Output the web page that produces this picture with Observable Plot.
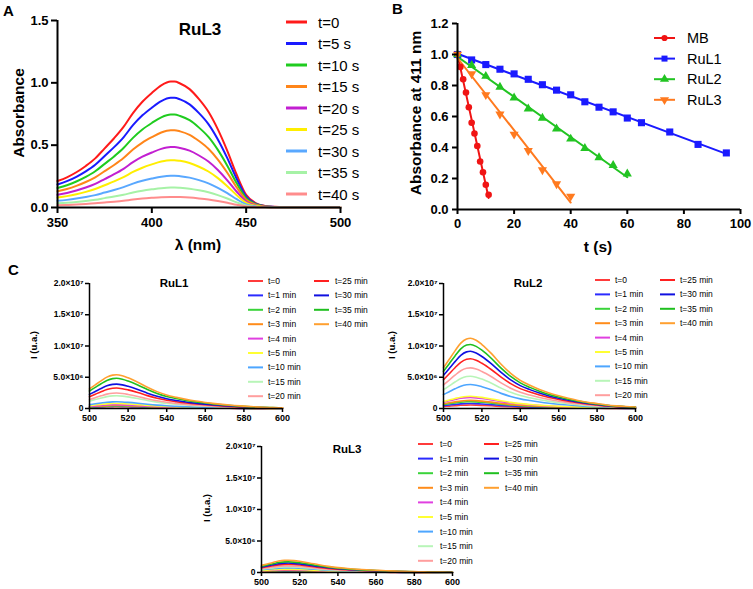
<!DOCTYPE html>
<html><head><meta charset="utf-8">
<script src="https://cdn.jsdelivr.net/npm/d3@7"></script>
<script src="https://cdn.jsdelivr.net/npm/@observablehq/plot@0.6"></script>
<style>
body{margin:0;background:#fff;}
#root{position:relative;width:753px;height:589px;overflow:hidden;background:#fff;font-family:"Liberation Sans",Arial,sans-serif;}
#root svg{position:absolute;}
</style></head><body><div id="root"></div>
<script>
// ---------- Panel A: absorbance spectra of RuL3 ----------
const aWavelength = [350,355,360,365,370,375,380,385,390,395,400,405,410,412,415,420,425,430,435,440,445,450,455,460,465,470,480,490,500];
const aShape = [0.21,0.24,0.28,0.33,0.39,0.47,0.55,0.64,0.75,0.84,0.91,0.97,1.0,1.0,0.985,0.94,0.86,0.76,0.62,0.45,0.26,0.10,0.035,0.012,0.005,0.002,0.001,0.0,0.0];
const aLabels = ["t=0","t=5 s","t=10 s","t=15 s","t=20 s","t=25 s","t=30 s","t=35 s","t=40 s"];
const aPeaks = [1.01,0.88,0.745,0.62,0.485,0.38,0.255,0.16,0.085];
const aColors = ["#ff1a1a","#1a1aff","#1fcc1f","#ff8519","#c21fd1","#ffee00","#59a8ff","#a6f2a6","#ff8c8c"];
const aXTicks = [350,400,450,500];
const aYTicks = [0,0.5,1.0,1.5];

// ---------- Panel B: absorbance at 411 nm vs time ----------
const bSeries = ["MB","RuL1","RuL2","RuL3"];
const bColors = ["#f01414","#1a1aff","#22c422","#ff7a1f"];
const bMB_t = [0,1,2,3,4,5,6,7,8,9,10,11];
const bMB_y = [1.0,0.92,0.84,0.755,0.66,0.56,0.49,0.41,0.31,0.24,0.16,0.095];
const bRuL1_t = [0,5,10,15,20,25,30,35,40,45,50,55,60,65,75,85,95];
const bRuL1_y = [1.0,0.965,0.935,0.905,0.875,0.84,0.805,0.77,0.74,0.695,0.66,0.63,0.59,0.56,0.5,0.42,0.365];
const bRuL2_t = [0,5,10,15,20,25,30,35,40,45,50,55,60];
const bRuL2_y = [1.0,0.93,0.86,0.79,0.72,0.65,0.59,0.52,0.455,0.395,0.335,0.285,0.23];
const bRuL3_t = [0,5,10,15,20,25,30,35,40];
const bRuL3_y = [1.0,0.875,0.74,0.615,0.485,0.38,0.255,0.165,0.085];
const bXTicks = [0,20,40,60,80,100];
const bYTicks = [0,0.2,0.4,0.6,0.8,1.0,1.2];

// ---------- Panel C: emission spectra ----------
const cWavelength = [500,503,506,509,512,514,517,520,525,530,535,540,545,550,555,560,565,570,575,580,585,590,595,600];
const cShape = [0.58,0.70,0.82,0.93,0.99,1.0,0.97,0.91,0.78,0.63,0.50,0.40,0.33,0.27,0.22,0.18,0.145,0.115,0.09,0.07,0.05,0.037,0.028,0.022];
const cLabels = ["t=0","t=1 min","t=2 min","t=3 min","t=4 min","t=5 min","t=10 min","t=15 min","t=20 min","t=25 min","t=30 min","t=35 min","t=40 min"];
const cColors = ["#ff3b3b","#2b2bff","#3ad43a","#ff8c1a","#e040e0","#ffff33","#4da6ff","#b8f5b8","#ff9e9e","#ff2020","#1010e0","#1fbf1f","#ffa030"];
const cPeaksRuL1 = [0.3e6,0.35e6,0.4e6,0.5e6,0.6e6,0.8e6,1.07e6,2.04e6,2.47e6,3.27e6,3.9e6,4.83e6,5.4e6];
const cPeaksRuL2 = [0.55e6,0.8e6,1.1e6,1.3e6,1.75e6,1.95e6,3.84e6,5.17e6,6.5e6,7.95e6,9.15e6,10.25e6,11.25e6];
const cPeaksRuL3 = [0.2e6,0.25e6,0.3e6,0.35e6,0.45e6,0.53e6,0.74e6,0.9e6,1.05e6,1.3e6,1.5e6,1.7e6,1.95e6];
const cXTicks = [500,520,540,560,580,600];
const cYTicks = [0,5e6,1e7,1.5e7,2e7];
const cYTickLabels = ["0","5.0×10\u2076","1.0×10\u2077","1.5×10\u2077","2.0×10\u2077"];

const root = document.getElementById("root");
const FONT = "'Liberation Sans', Arial, Helvetica, sans-serif";
function place(el, left, top){ el.style.left = left+"px"; el.style.top = top+"px"; root.append(el); }

// ----- Panel A plot -----
const aData = [];
aLabels.forEach((s,i)=>aWavelength.forEach((w,j)=>aData.push({x:w, y:aShape[j]*aPeaks[i], s})));
const plotA = Plot.plot({
  width:380, height:260, marginTop:20, marginRight:40, marginBottom:53, marginLeft:57,
  x:{domain:[350,500]}, y:{domain:[0,1.5]},
  color:{domain:aLabels, range:aColors},
  style:{fontFamily:FONT, fontSize:"13px", fontWeight:"bold", background:"transparent", overflow:"visible", color:"#000"},
  marks:[
    Plot.line(aData,{x:"x", y:"y", z:"s", stroke:"s", strokeWidth:2, curve:"monotone-x"}),
    Plot.ruleX([350],{stroke:"#000", strokeWidth:2}),
    Plot.ruleY([0],{stroke:"#000", strokeWidth:2}),
    Plot.axisX({ticks:aXTicks, tickSize:6, tickPadding:4, strokeWidth:2, label:null}),
    Plot.axisY({ticks:aYTicks, tickSize:6, tickPadding:3, strokeWidth:2, tickFormat:d3.format(".1f"), label:null})
  ]
});
place(plotA, 0, 0);

// ----- Panel B plot -----
const bData = [];
const bT = [bMB_t,bRuL1_t,bRuL2_t,bRuL3_t], bY = [bMB_y,bRuL1_y,bRuL2_y,bRuL3_y];
bSeries.forEach((s,i)=>bT[i].forEach((t,j)=>bData.push({t, y:bY[i][j], s})));
const bSymbols = ["circle","square","triangle","triangle"];
const bRotate = [0,0,0,180];
const bR = [3.3,4.0,3.4,3.4];
const bMarks = [];
bSeries.forEach((s,i)=>{
  const d = bData.filter(r=>r.s===s);
  bMarks.push(Plot.linearRegressionY(d,{x:"t", y:"y", stroke:bColors[i], strokeWidth:2, ci:0}));
});
bSeries.forEach((s,i)=>{
  const d = bData.filter(r=>r.s===s);
  bMarks.push(Plot.dot(d,{x:"t", y:"y", fill:bColors[i], symbol:bSymbols[i], rotate:bRotate[i], r:bR[i]}));
});
const plotB = Plot.plot({
  width:373, height:260, marginTop:23, marginRight:13, marginBottom:51, marginLeft:77,
  x:{domain:[0,100]}, y:{domain:[0,1.2]},
  style:{fontFamily:FONT, fontSize:"13px", fontWeight:"bold", background:"transparent", overflow:"visible", color:"#000"},
  marks:[
    ...bMarks,
    Plot.ruleX([0],{stroke:"#000", strokeWidth:2}),
    Plot.ruleY([0],{stroke:"#000", strokeWidth:2}),
    Plot.axisX({ticks:bXTicks, tickSize:5, tickPadding:4, strokeWidth:2, label:null}),
    Plot.axisY({ticks:bYTicks, tickSize:5, tickPadding:4, strokeWidth:2, tickFormat:d3.format(".1f"), label:null})
  ]
});
place(plotB, 380, 0);

// ----- Panel C plots -----
function makeC(peaks, opts){
  const data = [];
  cLabels.forEach((s,i)=>cWavelength.forEach((w,j)=>data.push({x:w, y:cShape[j]*peaks[i], s})));
  return Plot.plot({
    width:opts.width, height:opts.height, marginTop:opts.mt, marginRight:opts.mr, marginBottom:opts.mb, marginLeft:opts.ml,
    x:{domain:[500,600]}, y:{domain:[0,2e7]},
    color:{domain:cLabels, range:cColors},
    style:{fontFamily:FONT, fontSize:"9px", fontWeight:"bold", background:"transparent", overflow:"visible", color:"#000"},
    marks:[
      Plot.line(data,{x:"x", y:"y", z:"s", stroke:"s", strokeWidth:1.6, curve:"monotone-x"}),
      Plot.ruleX([500],{stroke:"#000", strokeWidth:1.5}),
      Plot.ruleY([0],{stroke:"#000", strokeWidth:1.5}),
      Plot.axisX({ticks:cXTicks, tickSize:4, tickPadding:2, strokeWidth:1.5, fontSize:9, label:null}),
      Plot.axisY({ticks:cYTicks, tickSize:4, tickPadding:2, strokeWidth:1.5, fontSize:8.5, tickFormat:d=>cYTickLabels[cYTicks.indexOf(d)], label:null})
    ]
  });
}
place(makeC(cPeaksRuL1,{width:380,height:170,mt:23,mr:98,mb:22,ml:89}), 0, 260);
place(makeC(cPeaksRuL2,{width:373,height:170,mt:23,mr:118,mb:22,ml:63}), 380, 260);
place(makeC(cPeaksRuL3,{width:340,height:169,mt:26,mr:88,mb:17,ml:61}), 200, 420);

// ----- Overlay: panel letters, titles, axis labels, legends -----
const ov = d3.create("svg").attr("width",753).attr("height",589)
  .style("left","0px").style("top","0px").style("font-family",FONT);
function txt(s,x,y,size,weight,anchor,rot){
  const t = ov.append("text").attr("x",x).attr("y",y).attr("font-size",size).attr("font-weight",weight||"normal")
    .attr("text-anchor",anchor||"middle").attr("dominant-baseline","central").attr("fill","#000").text(s);
  if(rot) t.attr("transform",`rotate(${rot},${x},${y})`);
  return t;
}
txt("A",3,10,15,"bold","start");
txt("B",392,8,15,"bold","start");
txt("C",8,269,15,"bold","start");
// Panel A texts
txt("RuL3",200,29,17,"bold");
txt("λ (nm)",198,244,15.5,"bold");
txt("Absorbance",18,113,15.5,"bold","middle",-90);
aLabels.forEach((s,i)=>{
  const y = 22 + i*21.5;
  ov.append("line").attr("x1",286).attr("x2",307).attr("y1",y).attr("y2",y).attr("stroke",aColors[i]).attr("stroke-width",3);
  txt(s,318,y,15,"normal","start");
});
// Panel B texts
txt("t (s)",598,246,15.5,"bold");
txt("Absorbance at 411 nm",415,113,15.5,"bold","middle",-90);
const legSym = [d3.symbolCircle,d3.symbolSquare,d3.symbolTriangle,d3.symbolTriangle];
bSeries.forEach((s,i)=>{
  const y = 38 + i*20.6;
  ov.append("line").attr("x1",654).attr("x2",675).attr("y1",y).attr("y2",y).attr("stroke",bColors[i]).attr("stroke-width",2);
  ov.append("path").attr("d",d3.symbol(legSym[i],i===0?30:36)())
    .attr("transform",`translate(664.5,${y}) rotate(${bRotate[i]})`).attr("fill",bColors[i]);
  txt(s,687,y,14.5,"normal","start");
});
// Panel C texts
const cPanels = [
  {title:"RuL1", tx:174, ty:283, lx:33, ly:345, c1:248, t1:268, c2:314, t2:335, y0:281, step:14.4},
  {title:"RuL2", tx:528, ty:283, lx:391, ly:345, c1:595, t1:615, c2:660, t2:680, y0:280, step:14.4},
  {title:"RuL3", tx:347, ty:449, lx:206, ly:508, c1:418, t1:440, c2:484, t2:505, y0:444, step:14.6}
];
cPanels.forEach(p=>{
  txt(p.title,p.tx,p.ty,11.5,"bold");
  txt("I (u.a.)",p.lx,p.ly,9.5,"bold","middle",-90);
  cLabels.forEach((s,i)=>{
    const col = i<9 ? 0 : 1;
    const row = i<9 ? i : i-9;
    const y = p.y0 + row*p.step;
    const x1 = col===0 ? p.c1 : p.c2;
    const tx = col===0 ? p.t1 : p.t2;
    ov.append("line").attr("x1",x1).attr("x2",x1+15).attr("y1",y).attr("y2",y).attr("stroke",cColors[i]).attr("stroke-width",2);
    txt(s,tx,y,8.5,"normal","start");
  });
});
root.append(ov.node());
</script></body></html>
